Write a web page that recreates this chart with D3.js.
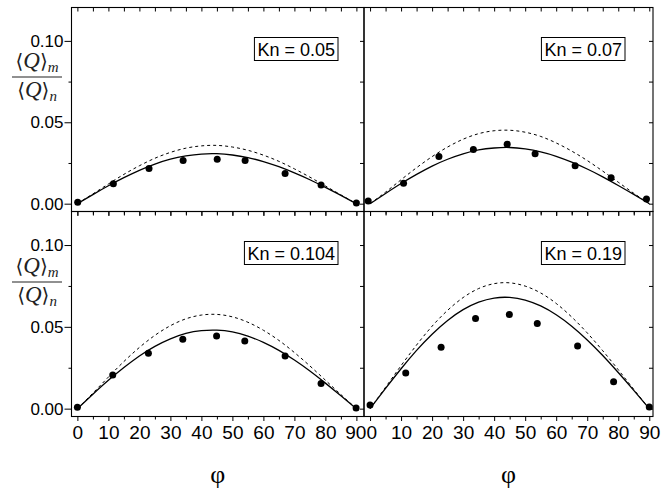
<!DOCTYPE html>
<html><head><meta charset="utf-8">
<script src="https://cdn.jsdelivr.net/npm/d3@7"></script>
<style>body{margin:0;background:#fff}svg{display:block}</style>
</head><body>
<svg id="c" width="662" height="495"></svg>
<script>
// ---- data ----
const knLabels = ["Kn = 0.05", "Kn = 0.07", "Kn = 0.104", "Kn = 0.19"];
const phiGrid = [0,5,10,15,20,25,30,35,40,45,50,55,60,65,70,75,80,85,90];
const solidTL  = [0,.0056,.0110,.0160,.0205,.0243,.0273,.0293,.0305,.0307,.0299,.0283,.0259,.0227,.0189,.0147,.0100,.0051,0];
const dashedTL = [0,.0060,.0121,.0180,.0233,.0279,.0315,.0341,.0355,.0358,.0348,.0328,.0298,.0260,.0214,.0163,.0109,.0054,0];
const solidTR  = [0,.0063,.0124,.0180,.0231,.0273,.0306,.0330,.0342,.0345,.0336,.0318,.0291,.0255,.0213,.0165,.0112,.0057,0];
const dashedTR = [0,.0071,.0147,.0221,.0289,.0348,.0396,.0430,.0448,.0451,.0439,.0413,.0373,.0323,.0265,.0200,.0132,.0064,0];
const solidBL  = [0,.0088,.0173,.0251,.0322,.0381,.0427,.0460,.0477,.0480,.0469,.0443,.0405,.0356,.0297,.0230,.0156,.0079,0];
const dashedBL = [0,.0095,.0193,.0288,.0374,.0448,.0507,.0549,.0572,.0576,.0561,.0528,.0479,.0417,.0343,.0261,.0174,.0086,0];
const solidBR  = [0,.0124,.0244,.0356,.0455,.0539,.0605,.0651,.0676,.0680,.0664,.0628,.0574,.0504,.0420,.0325,.0221,.0112,0];
const dashedBR = [0,.0131,.0263,.0389,.0504,.0601,.0679,.0734,.0764,.0769,.0749,.0707,.0643,.0560,.0463,.0354,.0238,.0118,0];
const ptPhiTL = [0.1,11.6,23.1,34.1,45.1,54.1,67.0,78.6,90.0];
const ptValTL = [.0009,.0122,.0216,.0265,.0273,.0265,.0185,.0114,.0004];
const ptPhiTR = [-0.6,10.8,22.2,33.3,44.2,53.2,66.1,77.7,89.1];
const ptValTR = [.0016,.0125,.0290,.0333,.0365,.0306,.0233,.0160,.0029];
const ptPhiBL = [0,11.4,22.9,34.0,44.9,54.0,67.0,78.6,89.9];
const ptValBL = [.0009,.0206,.0339,.0424,.0444,.0414,.0322,.0153,.0004];
const ptPhiBR = [0,11.5,22.9,34.0,44.9,53.9,66.9,78.5,90.0];
const ptValBR = [.0022,.0218,.0375,.0551,.0575,.0520,.0383,.0165,.0010];
const xTickValues = [0,10,20,30,40,50,60,70,80,90];
const xMinorValues = [5,15,25,35,45,55,65,75,85];
const yTickValues = [0, 0.05, 0.10];
const yMinorValues = [0.025, 0.075];

// ---- layout ----
const svg = d3.select("#c");
const colX = [[71.5,364],[364,653]];
const rowY = [[7.5,211.5],[211.5,416.5]];
const xDomains = [[-1.9,92.45],[-1.95,91.2]];
const yDomain = [-0.0048, 0.1205];
const FONT = "'Liberation Sans', Arial, sans-serif";

const panels = [
  {c:0,r:0,solid:solidTL,dashed:dashedTL,pp:ptPhiTL,pv:ptValTL,kn:knLabels[0]},
  {c:1,r:0,solid:solidTR,dashed:dashedTR,pp:ptPhiTR,pv:ptValTR,kn:knLabels[1]},
  {c:0,r:1,solid:solidBL,dashed:dashedBL,pp:ptPhiBL,pv:ptValBL,kn:knLabels[2]},
  {c:1,r:1,solid:solidBR,dashed:dashedBR,pp:ptPhiBR,pv:ptValBR,kn:knLabels[3]}
];

panels.forEach(p => {
  const [x0,x1] = colX[p.c], [y0,y1] = rowY[p.r];
  const x = d3.scaleLinear().domain(xDomains[p.c]).range([x0,x1]);
  const y = d3.scaleLinear().domain(yDomain).range([y1,y0]);
  const g = svg.append("g");

  // curves
  const line = d3.line().x((d,i)=>x(phiGrid[i])).y(d=>y(d)).curve(d3.curveNatural);
  g.append("path").attr("d", line(p.dashed)).attr("fill","none")
    .attr("stroke","#000").attr("stroke-width",1).attr("stroke-dasharray","3,3");
  g.append("path").attr("d", line(p.solid)).attr("fill","none")
    .attr("stroke","#000").attr("stroke-width",1.3);
  // points
  g.selectAll("circle.pt").data(p.pp).enter().append("circle")
    .attr("cx", d=>x(d)).attr("cy",(d,i)=>y(p.pv[i])).attr("r",3.5).attr("fill","#000");

  // frame
  g.append("rect").attr("x",x0).attr("y",y0).attr("width",x1-x0).attr("height",y1-y0)
    .attr("fill","none").attr("stroke","#000").attr("stroke-width",1.1);

  // top ticks (inward)
  const topAx = d3.axisBottom(x).tickValues(xTickValues.concat(xMinorValues)).tickSize(4).tickFormat("");
  g.append("g").attr("transform",`translate(0,${y0})`).call(topAx).call(s=>s.select(".domain").remove());
  // bottom ticks (outward)
  const botAx = d3.axisBottom(x).tickValues(xTickValues).tickSize(4.5).tickPadding(5)
    .tickFormat(p.r===1 ? d3.format("d") : "");
  const bg = g.append("g").attr("transform",`translate(0,${y1})`).call(botAx);
  bg.select(".domain").remove();
  bg.selectAll("text").attr("font-family",FONT).attr("font-size",19).attr("fill","#000")
    .attr("dx", d => (p.c===0 && d===90) ? -1.2 : (p.c===1 && d===0) ? 1.2 : 0);
  g.append("g").attr("transform",`translate(0,${y1})`)
    .call(d3.axisBottom(x).tickValues(xMinorValues).tickSize(3).tickFormat(""))
    .select(".domain").remove();
  // right ticks (inward)
  g.append("g").attr("transform",`translate(${x1},0)`)
    .call(d3.axisRight(y).tickValues(yTickValues.concat(yMinorValues)).tickSize(-4).tickFormat(""))
    .select(".domain").remove();
  // left axis for left column
  if (p.c===0) {
    const la = g.append("g").attr("transform",`translate(${x0},0)`)
      .call(d3.axisLeft(y).tickValues(yTickValues).tickSize(7).tickPadding(1).tickFormat(d3.format(".2f")));
    la.select(".domain").remove();
    la.selectAll("text").attr("font-family",FONT).attr("font-size",17).attr("fill","#000");
    g.append("g").attr("transform",`translate(${x0},0)`)
      .call(d3.axisLeft(y).tickValues(yMinorValues).tickSize(3).tickFormat(""))
      .select(".domain").remove();
  }

  // Kn label box
  const bx = x1 - (p.c===0 ? 26 : 28), by = y0 + 30;
  const kg = g.append("g");
  const rect = kg.append("rect");
  const t = kg.append("text").attr("x",bx-3).attr("y",by+18).attr("text-anchor","end")
    .attr("font-family",FONT).attr("font-size",18).attr("fill","#000").text(p.kn);
  const bb = t.node().getBBox();
  rect.attr("x",bb.x-3).attr("y",by).attr("width",bb.width+6).attr("height",23)
    .attr("fill","#fff").attr("stroke","#000").attr("stroke-width",1);

  // fraction y label
  if (p.c===0) {
    const fy = p.r===0 ? 0 : 205;
    const fl = svg.append("g").attr("transform",`translate(37,${fy})`).attr("fill","#222");
    [["m",68],["n",97]].forEach(([sub,base])=>{
      const tx = fl.append("text").attr("x",0).attr("y",base).attr("text-anchor","middle")
        .attr("font-family","'Liberation Serif', 'DejaVu Serif', serif").attr("font-size",23);
      tx.append("tspan").attr("font-family","'DejaVu Serif', serif").attr("font-size",20).text("\u27E8");
      tx.append("tspan").attr("font-style","italic").text("Q");
      tx.append("tspan").attr("font-family","'DejaVu Serif', serif").attr("font-size",20).text("\u27E9");
      tx.append("tspan").attr("font-style","italic").attr("font-size",15).attr("dy",4).text(sub);
    });
    fl.append("line").attr("x1",-25).attr("x2",25).attr("y1",77).attr("y2",77)
      .attr("stroke","#222").attr("stroke-width",1.2);
  }
});

// φ labels
[0,1].forEach(c=>{
  svg.append("text").attr("x",(colX[c][0]+colX[c][1])/2).attr("y",483).attr("text-anchor","middle")
    .attr("font-family","'Liberation Serif', 'Times New Roman', serif").attr("font-size",26).attr("fill","#000")
    .text("\u03C6");
});
</script>
</body></html>
